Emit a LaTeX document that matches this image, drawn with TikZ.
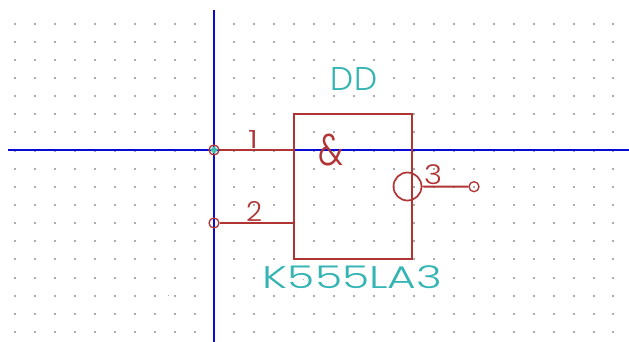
\documentclass[tikz,border=0pt]{standalone}
\usepackage{fontspec}
\usepackage{graphicx}
\newfontfamily\strokefont{Poppins Light}
\definecolor{wirered}{HTML}{B03434}
\definecolor{axisblue}{HTML}{0A0AD8}
\definecolor{labelteal}{HTML}{35B4B4}
\definecolor{griddot}{HTML}{ABABAB}
\definecolor{markcyan}{HTML}{50C8B0}
\newcommand{\fit}[3]{\resizebox*{#1pt}{#2pt}{\strokefont #3}}
\tikzset{
  x=1pt,y=-1pt,
  axisline/.style={draw=axisblue,line width=1.9pt},
  wire/.style={draw=wirered,line width=1.9pt},
  pinend/.style={circle,draw=wirered,line width=1.3pt,minimum size=10pt,inner sep=0pt},
  bubble/.style={circle,draw=wirered,line width=1.7pt,minimum size=28pt,inner sep=0pt},
  gatebox/.style={rectangle,draw=wirered,line width=1.9pt,minimum width=118pt,minimum height=145pt,inner sep=0pt},
  redtext/.style={text=wirered,inner sep=0pt},
  tealtext/.style={text=labelteal,inner sep=0pt},
}
\begin{document}
\begin{tikzpicture}
\useasboundingbox (0,0) rectangle (629,342);
\fill[white] (0,0) rectangle (629,342);
% grid (the dots behind DD and K555LA3 are not shown in the reference)
\foreach \c in {0,...,30}{
  \foreach \r in {0,...,17}{
    \pgfmathtruncatemacro\hideit{(\r==3 && \c>=16 && \c<=18) || (\r==14 && \c>=13 && \c<=21) ? 1 : 0}
    \ifnum\hideit=0
      \fill[griddot] ({round(15+19.95*\c)-0.65},{round(23.5+18.15*\r)-0.65}) rectangle ++(1.3,1.3);
    \fi
  }
}
\fill[griddot] (168,295) rectangle ++(1,1);
\fill[griddot] (303,279) rectangle ++(1,1);
% axes
\coordinate (axL) at (8,150);
\coordinate (axR) at (629,150);
\coordinate (axT) at (214,10);
\coordinate (axB) at (214,342);
\draw[axisline] (axL) -- (axR);
\draw[axisline] (axT) -- (axB);
% gate
\node[gatebox] (gate) at (353,186.5) {};
\node[pinend] (p1) at (214,150) {};
\node[pinend] (p2) at (214,223) {};
\node[pinend] (p3) at (474,186.7) {};
\node[bubble] (bub) at (407.5,186.5) {};
\coordinate (g1) at (gate.west |- p1);
\coordinate (g2) at (gate.west |- p2);
\draw[wire] (p1) -- (g1);
\draw[wire] (p2) -- (g2);
\draw[wire] (bub) -- (p3);
\fill[markcyan] (214,150) circle (3.2);
\draw[draw=labelteal,line width=1pt] (210,150) -- (218,150) (214,146) -- (214,154);
% labels
\node[redtext] (n1) at (253,139) {\fit{10}{18}{1}};
\node[redtext] (n2) at (254,211) {\fit{16}{20}{2}};
\node[redtext] (n3) at (433,175) {\fit{18}{20}{3}};
\node[redtext] (amp) at (330.5,150) {\fit{25}{32}{\&}};
\node[tealtext] (ref) at (354,78.5) {\fit{46}{23}{DD}};
\node[tealtext] (val) at (352.5,277.5) {\fit{179}{23}{K555LA3}};
\end{tikzpicture}
\end{document}
